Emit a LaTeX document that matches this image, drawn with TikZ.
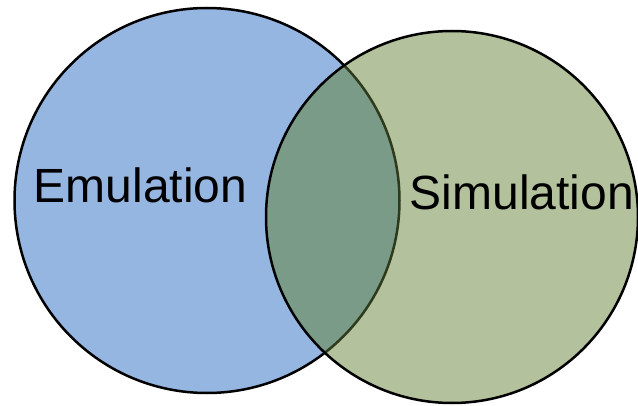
\documentclass[tikz,border=0pt]{standalone}
\usepackage{fontspec}
\setmainfont{Liberation Sans}
\definecolor{emublue}{HTML}{96B6E2}
\definecolor{simgreen}{HTML}{B3C19C}
\definecolor{overlapgreen}{HTML}{7B9B89}
\definecolor{shadedline}{HTML}{2E3A1C}
\begin{document}
\begin{tikzpicture}[x=1pt,y=1pt,
  outline/.style={line width=2.5pt},
  setlabel/.style={font=\fontsize{48}{50}\selectfont, text=black, inner sep=0pt, anchor=base west}]
\useasboundingbox (0,0) rectangle (638,405);
% centres and radii of the two sets
\coordinate (emuc) at (207,204.5);
\coordinate (simc) at (452,188);
\def\emur{192.5}
\def\simr{186}
% emulation set
\fill[emublue] (emuc) circle (\emur);
\draw[outline, black] (emuc) circle (\emur);
% simulation set
\fill[simgreen] (simc) circle (\simr);
% intersection, with the emulation outline seen through the green
\begin{scope}
  \clip (simc) circle (\simr);
  \fill[overlapgreen] (emuc) circle (\emur);
  \draw[outline, shadedline] (emuc) circle (\emur);
\end{scope}
\draw[outline, black] (simc) circle (\simr);
% labels
\node[setlabel] (emu) at (33.5,202) {Emulation};
\node[setlabel] (sim) at (409.5,195) {Simulation};
\end{tikzpicture}
\end{document}
